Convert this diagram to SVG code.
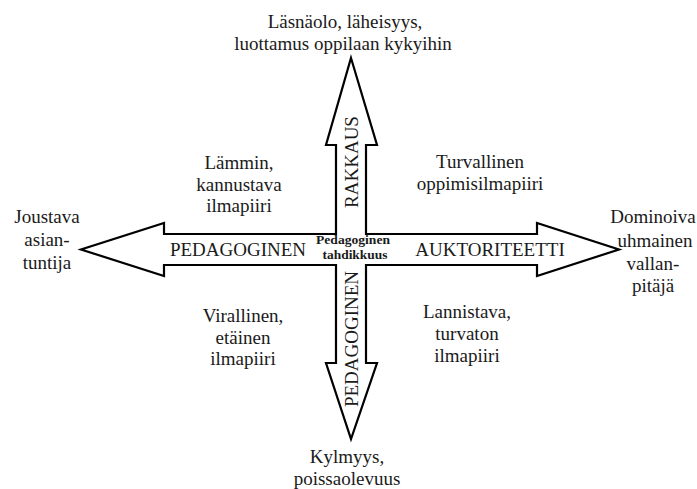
<svg xmlns="http://www.w3.org/2000/svg" width="697" height="489" viewBox="0 0 697 489">
<style>
text{font-family:"Liberation Serif","Times New Roman",serif;fill:#1a1a1a;font-size:19px;text-anchor:middle}
.c{font-size:12.5px;font-weight:bold}
.arrow{fill:#fff;stroke:#000;stroke-width:2.2;stroke-linejoin:miter}
</style>
<rect width="697" height="489" fill="#fff"/>
<g id="connectors">
<polygon class="arrow" points="351,58 377,145 366,145 366,234 537,234 537,223 619,249.5 537,276 537,265 366,265 366,363 377,363 351,439 326,363 336,363 336,265 164,265 164,276 81,249.5 164,223 164,234 336,234 336,145 326,145"/>
</g>
<g id="center">
<text class="c" x="353" y="244" textLength="74" lengthAdjust="spacingAndGlyphs">Pedagoginen</text>
<text class="c" x="355" y="258.5" textLength="65" lengthAdjust="spacingAndGlyphs">tahdikkuus</text>
</g>
<g id="arrow-labels">
<text x="238" y="256">PEDAGOGINEN</text>
<text x="490" y="256">AUKTORITEETTI</text>
<text transform="translate(358,162) rotate(-90)" x="0" y="0">RAKKAUS</text>
<text transform="translate(358,339) rotate(-90)" x="0" y="0">PEDAGOGINEN</text>
</g>
<g id="top">
<text x="345" y="28">Läsnäolo, läheisyys,</text>
<text x="343" y="50">luottamus oppilaan kykyihin</text>
</g>
<g id="left">
<text x="47" y="223">Joustava</text>
<text x="47" y="246">asian-</text>
<text x="47" y="269">tuntija</text>
</g>
<g id="right">
<text x="653" y="223">Dominoiva</text>
<text x="655" y="247">uhmainen</text>
<text x="653" y="270">vallan-</text>
<text x="653" y="292">pitäjä</text>
</g>
<g id="bottom">
<text x="347" y="463">Kylmyys,</text>
<text x="347" y="485">poissaolevuus</text>
</g>
<g id="q-top-left">
<text x="239" y="169">Lämmin,</text>
<text x="239" y="191">kannustava</text>
<text x="239" y="212">ilmapiiri</text>
</g>
<g id="q-top-right">
<text x="480" y="168">Turvallinen</text>
<text x="480" y="190">oppimisilmapiiri</text>
</g>
<g id="q-bottom-left">
<text x="243" y="322">Virallinen,</text>
<text x="243" y="344">etäinen</text>
<text x="243" y="365">ilmapiiri</text>
</g>
<g id="q-bottom-right">
<text x="467" y="318">Lannistava,</text>
<text x="467" y="340">turvaton</text>
<text x="467" y="362">ilmapiiri</text>
</g>
</svg>
